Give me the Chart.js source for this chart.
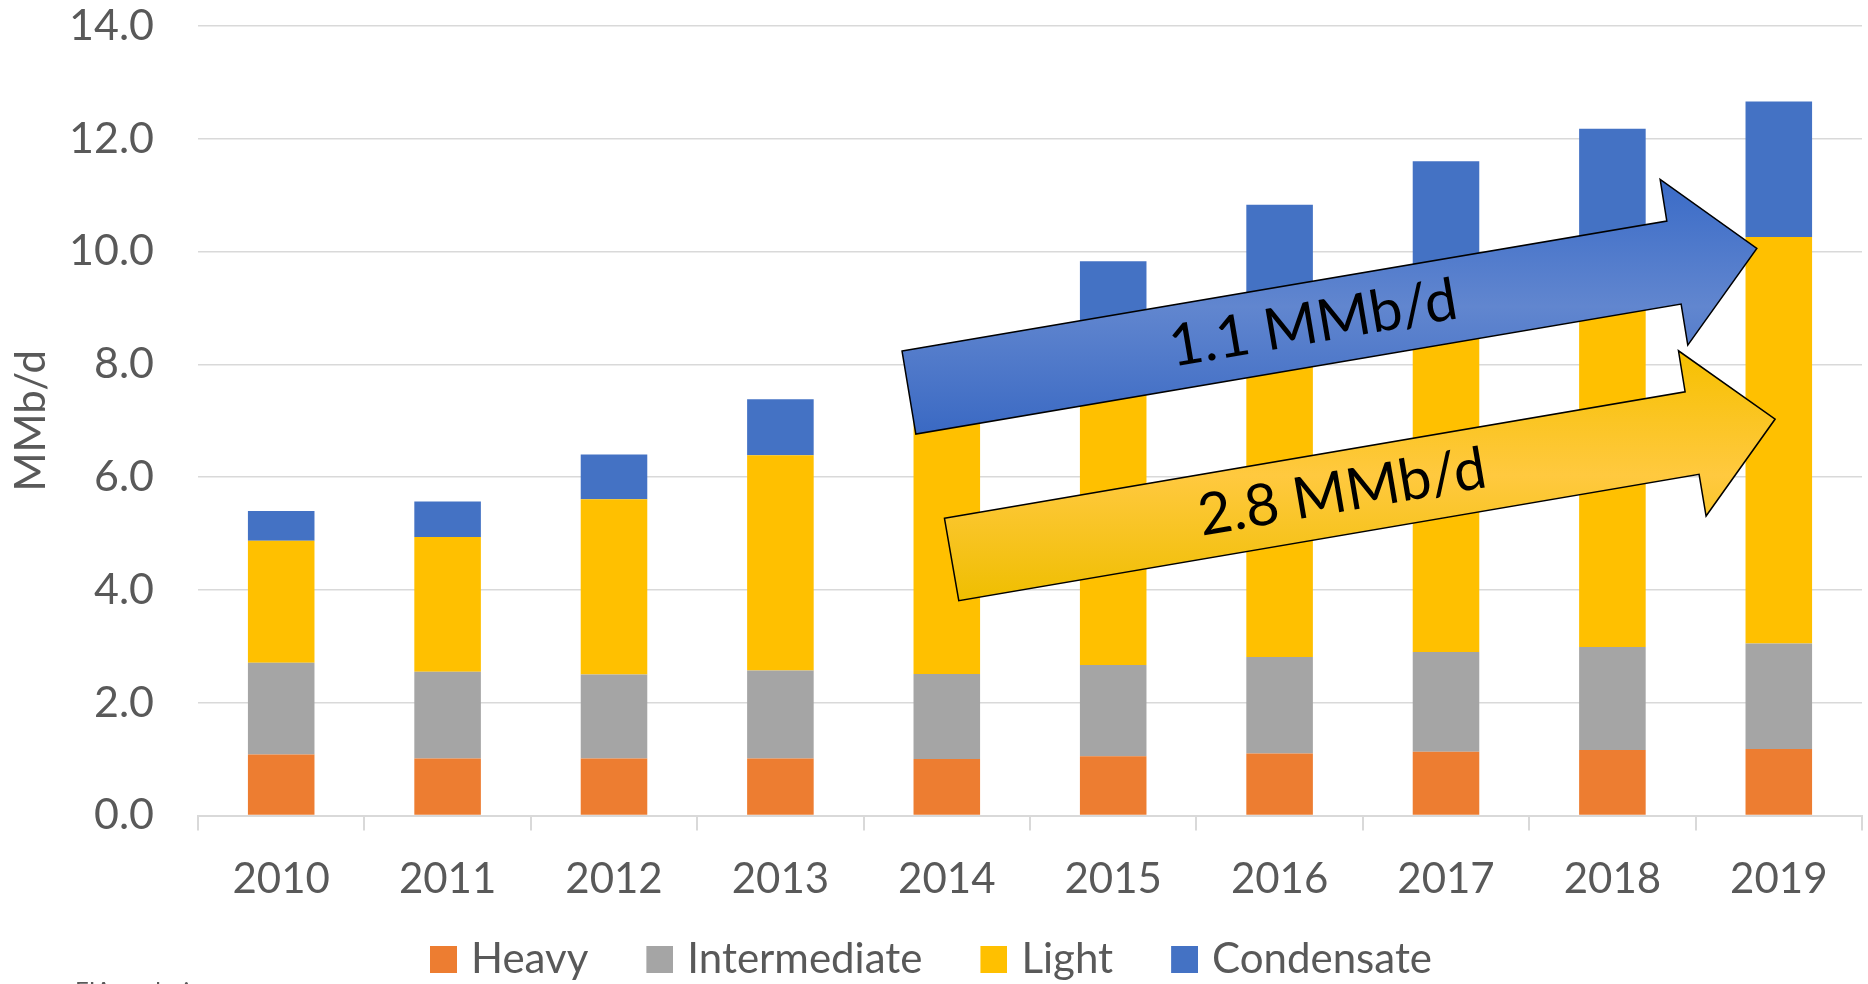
<!DOCTYPE html>
<html>
<head>
<meta charset="utf-8">
<script src="https://cdn.jsdelivr.net/npm/chart.js@4.4.1/dist/chart.umd.min.js"></script>
<style>
  html, body { margin: 0; padding: 0; background: #ffffff; }
  #wrap { width: 1868px; height: 984px; }
</style>
</head>
<body>
<div id="wrap"><canvas id="c" width="1868" height="984"></canvas></div>
<script>
// ---- data ----
const categories = ['2010', '2011', '2012', '2013', '2014', '2015', '2016', '2017', '2018', '2019'];
const heavy        = [1.08, 1.01, 1.01, 1.01, 1.00, 1.05, 1.10, 1.13, 1.16, 1.18];
const intermediate = [1.63, 1.54, 1.49, 1.56, 1.51, 1.62, 1.71, 1.77, 1.83, 1.87];
const light        = [2.16, 2.39, 3.11, 3.82, 4.49, 5.61, 6.22, 6.65, 6.94, 7.21];
const condensate   = [0.53, 0.63, 0.79, 0.99, 1.20, 1.55, 1.80, 2.05, 2.25, 2.40];
const seriesNames  = ['Heavy', 'Intermediate', 'Light', 'Condensate'];
const yTicks       = [0, 2, 4, 6, 8, 10, 12, 14];
const yTitle       = 'MMb/d';
const arrowLabels  = ['1.1 MMb/d', '2.8 MMb/d'];
const footnote     = 'EIA analysis';

// ---- annotation geometry in data space (x = category index, y = value) ----
const blueArrow = [[3.731, 8.236], [8.327, 10.541], [8.287, 11.280], [8.868, 10.057], [8.453, 8.342], [8.413, 9.069], [3.814, 6.764]];
const goldArrow = [[3.986, 5.270], [8.437, 7.514], [8.397, 8.241], [8.978, 7.030], [8.563, 5.310], [8.521, 6.050], [4.072, 3.810]];
const blueLabelAt = [6.201, 8.715];
const goldLabelAt = [6.376, 5.723];

const FONT = 'Lato, "Open Sans", sans-serif';
const TXT = '#595959';
const colors = ['#ed7d31', '#a5a5a5', '#ffc000', '#4472c4'];
const values = [heavy, intermediate, light, condensate];

// legend marker: 27px square placed on the right of a 34px-wide transparent canvas
function markerCanvas(color) {
  const cv = document.createElement('canvas');
  cv.width = 34; cv.height = 27;
  const c = cv.getContext('2d');
  c.fillStyle = color;
  c.fillRect(7, 0, 27, 27);
  return cv;
}
const markers = colors.map(markerCanvas);

const annotationPlugin = {
  id: 'arrows',
  beforeLayout(chart) {
    const lg = chart.legend;
    if (lg && !lg._fixedH) {
      const orig = lg.fit.bind(lg);
      lg.fit = function () { orig(); this.height = 78.5; };
      lg._fixedH = true;
    }
  },
  afterLayout(chart) {
    const lg = chart.legend;
    if (lg) { lg.top -= 25; }
  },
  afterDatasetsDraw(chart) {
    const ctx = chart.ctx;
    const xs = chart.scales.x, ys = chart.scales.y;
    const px = p => [xs.getPixelForValue(p[0]), ys.getPixelForValue(p[1])];
    function drawArrow(pts, stops, label, at) {
      const P = pts.map(px);
      let minY = Infinity, maxY = -Infinity;
      P.forEach(p => { minY = Math.min(minY, p[1]); maxY = Math.max(maxY, p[1]); });
      const g = ctx.createLinearGradient(0, minY, 0, maxY);
      g.addColorStop(0, stops[0]); g.addColorStop(0.5, stops[1]); g.addColorStop(1, stops[2]);
      ctx.save();
      ctx.beginPath();
      ctx.moveTo(P[0][0], P[0][1]);
      for (let i = 1; i < P.length; i++) ctx.lineTo(P[i][0], P[i][1]);
      ctx.closePath();
      ctx.fillStyle = g;
      ctx.fill();
      ctx.lineWidth = 1.5;
      ctx.strokeStyle = '#000000';
      ctx.lineJoin = 'miter';
      ctx.stroke();
      const ang = Math.atan2(P[1][1] - P[0][1], P[1][0] - P[0][0]);
      const c = px(at);
      ctx.translate(c[0], c[1]);
      ctx.rotate(ang);
      ctx.fillStyle = '#000000';
      ctx.font = '58px ' + FONT;
      ctx.textAlign = 'center';
      ctx.textBaseline = 'middle';
      ctx.fillText(label, 0, 0);
      ctx.restore();
    }
    drawArrow(blueArrow, ['#3a6bc7', '#6186cf', '#3a69c3'], arrowLabels[0], blueLabelAt);
    drawArrow(goldArrow, ['#f6c000', '#ffc93f', '#efbe00'], arrowLabels[1], goldLabelAt);
  },
  afterDraw(chart) {
    const ctx = chart.ctx;
    ctx.save();
    ctx.fillStyle = TXT;
    ctx.font = '24px ' + FONT;
    ctx.textBaseline = 'top';
    ctx.textAlign = 'left';
    ctx.fillText(footnote, 75, 979);
    ctx.restore();
  }
};

new Chart(document.getElementById('c'), {
  type: 'bar',
  data: {
    labels: categories,
    datasets: values.map((v, i) => ({
      label: seriesNames[i],
      data: v,
      backgroundColor: colors[i],
      borderWidth: 0,
      barPercentage: 0.4,
      categoryPercentage: 1.0
    }))
  },
  options: {
    responsive: false,
    animation: false,
    devicePixelRatio: 1,
    layout: { padding: { left: 0, right: 6, top: 26, bottom: 0 } },
    plugins: {
      tooltip: { enabled: false },
      legend: {
        position: 'bottom',
        labels: {
          usePointStyle: true,
          pointStyleWidth: 20,
          boxWidth: 27,
          boxHeight: 27,
          padding: 58,
          color: TXT,
          font: { family: FONT, size: 42 },
          generateLabels: chart => Chart.defaults.plugins.legend.labels.generateLabels(chart)
            .map((l, i) => Object.assign(l, { pointStyle: markers[i] }))
        }
      }
    },
    scales: {
      x: {
        stacked: true,
        offset: true,
        afterFit: s => { s.height = 90; },
        grid: { offset: true, drawOnChartArea: false, drawTicks: true, tickLength: 15, color: '#d9d9d9', lineWidth: 2 },
        border: { display: true, color: '#d9d9d9', width: 2 },
        ticks: { color: TXT, font: { family: FONT, size: 42 }, padding: 24, maxRotation: 0, autoSkip: false }
      },
      y: {
        stacked: true,
        min: 0,
        max: 14,
        afterFit: s => { s.width = 198; },
        afterBuildTicks: s => { s.ticks = yTicks.map(v => ({ value: v })); },
        grid: { color: '#d9d9d9', lineWidth: 1.5, drawTicks: true, tickLength: 44, tickColor: 'rgba(0,0,0,0)' },
        border: { display: false },
        ticks: { color: TXT, font: { family: FONT, size: 43 }, padding: 0, callback: v => Number(v).toFixed(1) },
        title: { display: true, text: yTitle, color: TXT, font: { family: FONT, size: 42 }, padding: { top: 6, bottom: 0 } }
      }
    }
  },
  plugins: [annotationPlugin]
});
</script>
</body>
</html>
